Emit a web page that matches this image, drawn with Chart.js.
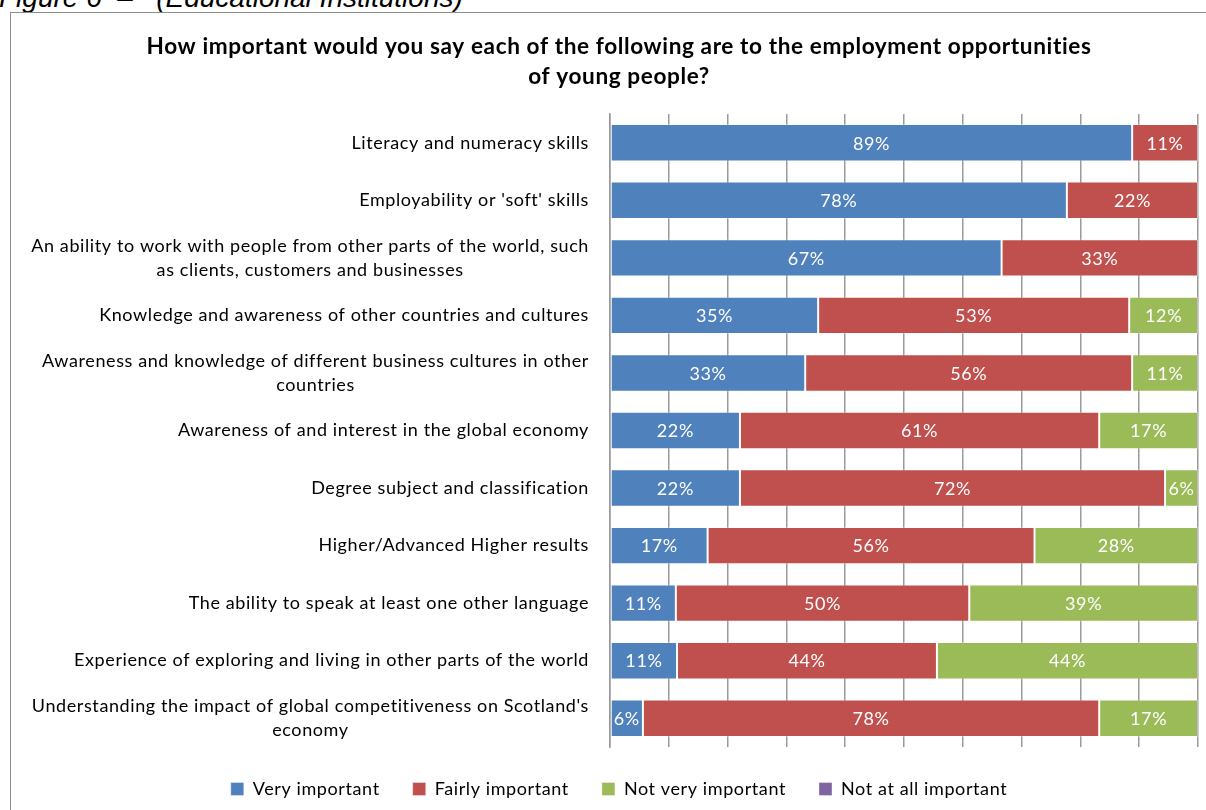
<!DOCTYPE html>
<html>
<head>
<meta charset="utf-8">
<script src="https://cdn.jsdelivr.net/npm/chart.js@4.4.0/dist/chart.umd.min.js"></script>
<style>
  html, body { margin: 0; padding: 0; background: #fff; overflow: hidden; width: 1206px; height: 810px; }
  #caption { position: absolute; left: -1px; top: -16px; font-family: "Liberation Sans", Arial, sans-serif; font-style: italic; font-size: 28px; line-height: 28px; color: #000; white-space: pre; }
  #box { position: absolute; left: 10px; top: 12px; width: 1216px; height: 810px; border: 1px solid #8c8c8c; background: #fff; }
  #wrap { position: absolute; left: 0; top: 0; width: 1216px; height: 810px; }
</style>
</head>
<body>
<div id="caption">Figure 6  –   (Educational Institutions)</div>
<div id="box"><div id="wrap"><canvas id="c"></canvas></div></div>
<script>
const chartTitle = ["How important would you say each of the following are to the employment opportunities", "of young people?"];
const categories = [
  "Literacy and numeracy skills",
  "Employability or 'soft' skills",
  ["An ability to work with people from other parts of the world, such", "as clients, customers and businesses"],
  "Knowledge and awareness of other countries and cultures",
  ["Awareness and knowledge of different business cultures in other", "countries"],
  "Awareness of and interest in the global economy",
  "Degree subject and classification",
  "Higher/Advanced Higher results",
  "The ability to speak at least one other language",
  "Experience of exploring and living in other parts of the world",
  ["Understanding the impact of global competitiveness on Scotland's", "economy"]
];
const seriesNames = ["Very important", "Fairly important", "Not very important", "Not at all important"];
const veryImportant     = [88.8, 77.7, 66.6, 35.4, 33.2, 22.1, 22.1, 16.6, 11.2, 11.4, 5.6];
const fairlyImportant   = [11.2, 22.3, 33.4, 52.9, 55.6, 61.1, 72.3, 55.6, 49.9, 44.2, 77.6];
const notVeryImportant  = [0, 0, 0, 11.7, 11.2, 16.8, 5.6, 27.8, 38.9, 44.4, 16.8];
const notAtAllImportant = [0, 0, 0, 0, 0, 0, 0, 0, 0, 0, 0];
const seriesColors = ["#4F81BD", "#C0504D", "#9BBB59", "#8064A2"];

const FONT = "Lato, 'Open Sans', sans-serif";
const SPACING = '0.6px';

const spacingPlugin = {
  id: 'spacing',
  beforeLayout(chart) { chart.ctx.letterSpacing = SPACING; },
  beforeDraw(chart) { chart.ctx.letterSpacing = SPACING; }
};

// Category labels: each block right-aligned against the axis, lines centred within the block
const catLabels = {
  id: 'catLabels',
  afterDraw(chart) {
    const ctx = chart.ctx;
    const yScale = chart.scales.y;
    ctx.save();
    ctx.letterSpacing = SPACING;
    ctx.fillStyle = '#000';
    ctx.font = "18px " + FONT;
    ctx.textAlign = 'center';
    ctx.textBaseline = 'middle';
    const right = chart.chartArea.left - 21;
    const lh = 24;
    chart.data.labels.forEach((lab, i) => {
      const lines = Array.isArray(lab) ? lab : [lab];
      const widths = lines.map(l => ctx.measureText(l).width);
      const maxW = Math.max(...widths);
      const yc = yScale.getPixelForValue(i);
      lines.forEach((l, k) => {
        ctx.fillText(l, right - maxW / 2, yc + (k - (lines.length - 1) / 2) * lh);
      });
    });
    ctx.restore();
  }
};

const segLabels = {
  id: 'segLabels',
  afterDatasetsDraw(chart) {
    const ctx = chart.ctx;
    ctx.save();
    ctx.fillStyle = '#ffffff';
    ctx.font = "18px " + FONT;
    ctx.textAlign = 'center';
    ctx.textBaseline = 'middle';
    chart.data.datasets.forEach((ds, i) => {
      const meta = chart.getDatasetMeta(i);
      if (meta.hidden) return;
      meta.data.forEach((el, j) => {
        const v = ds.data[j];
        if (!v) return;
        const p = el.getProps(['x', 'y', 'base'], true);
        ctx.fillText(Math.round(v) + '%', (p.x + p.base) / 2, p.y + 1);
      });
    });
    ctx.restore();
  }
};

const datasetsSrc = [veryImportant, fairlyImportant, notVeryImportant, notAtAllImportant];

new Chart(document.getElementById('c'), {
  type: 'bar',
  data: {
    labels: categories,
    datasets: datasetsSrc.map((arr, i) => ({
      label: seriesNames[i],
      data: arr,
      backgroundColor: seriesColors[i],
      borderColor: 'rgba(255,255,255,0.35)',
      borderWidth: 1,
      borderSkipped: false,
      barPercentage: 1,
      categoryPercentage: 0.65
    }))
  },
  options: {
    indexAxis: 'y',
    responsive: true,
    maintainAspectRatio: false,
    animation: false,
    layout: { padding: { left: 29, right: 29, top: 19, bottom: 15 } },
    plugins: {
      title: {
        display: true,
        text: chartTitle,
        color: '#000',
        font: { family: FONT, size: 22.6, weight: 'bold', lineHeight: 30 / 22.6 },
        padding: { top: 0, bottom: 22 }
      },
      legend: {
        position: 'bottom',
        labels: {
          color: '#000',
          font: { family: FONT, size: 18 },
          boxWidth: 13,
          boxHeight: 13,
          padding: 33
        }
      },
      tooltip: { enabled: false }
    },
    scales: {
      x: {
        stacked: true,
        min: 0,
        max: 100,
        ticks: { display: false, stepSize: 10 },
        grid: { color: '#9a9a9a', lineWidth: 1.5, drawTicks: false },
        border: { display: false }
      },
      y: {
        stacked: true,
        ticks: { display: false },
        grid: { display: false, drawTicks: false },
        border: { display: true, color: '#9a9a9a', width: 1.5 },
        afterFit(scale) { scale.width = 570; }
      }
    }
  },
  plugins: [spacingPlugin, catLabels, segLabels]
});
</script>
</body>
</html>
